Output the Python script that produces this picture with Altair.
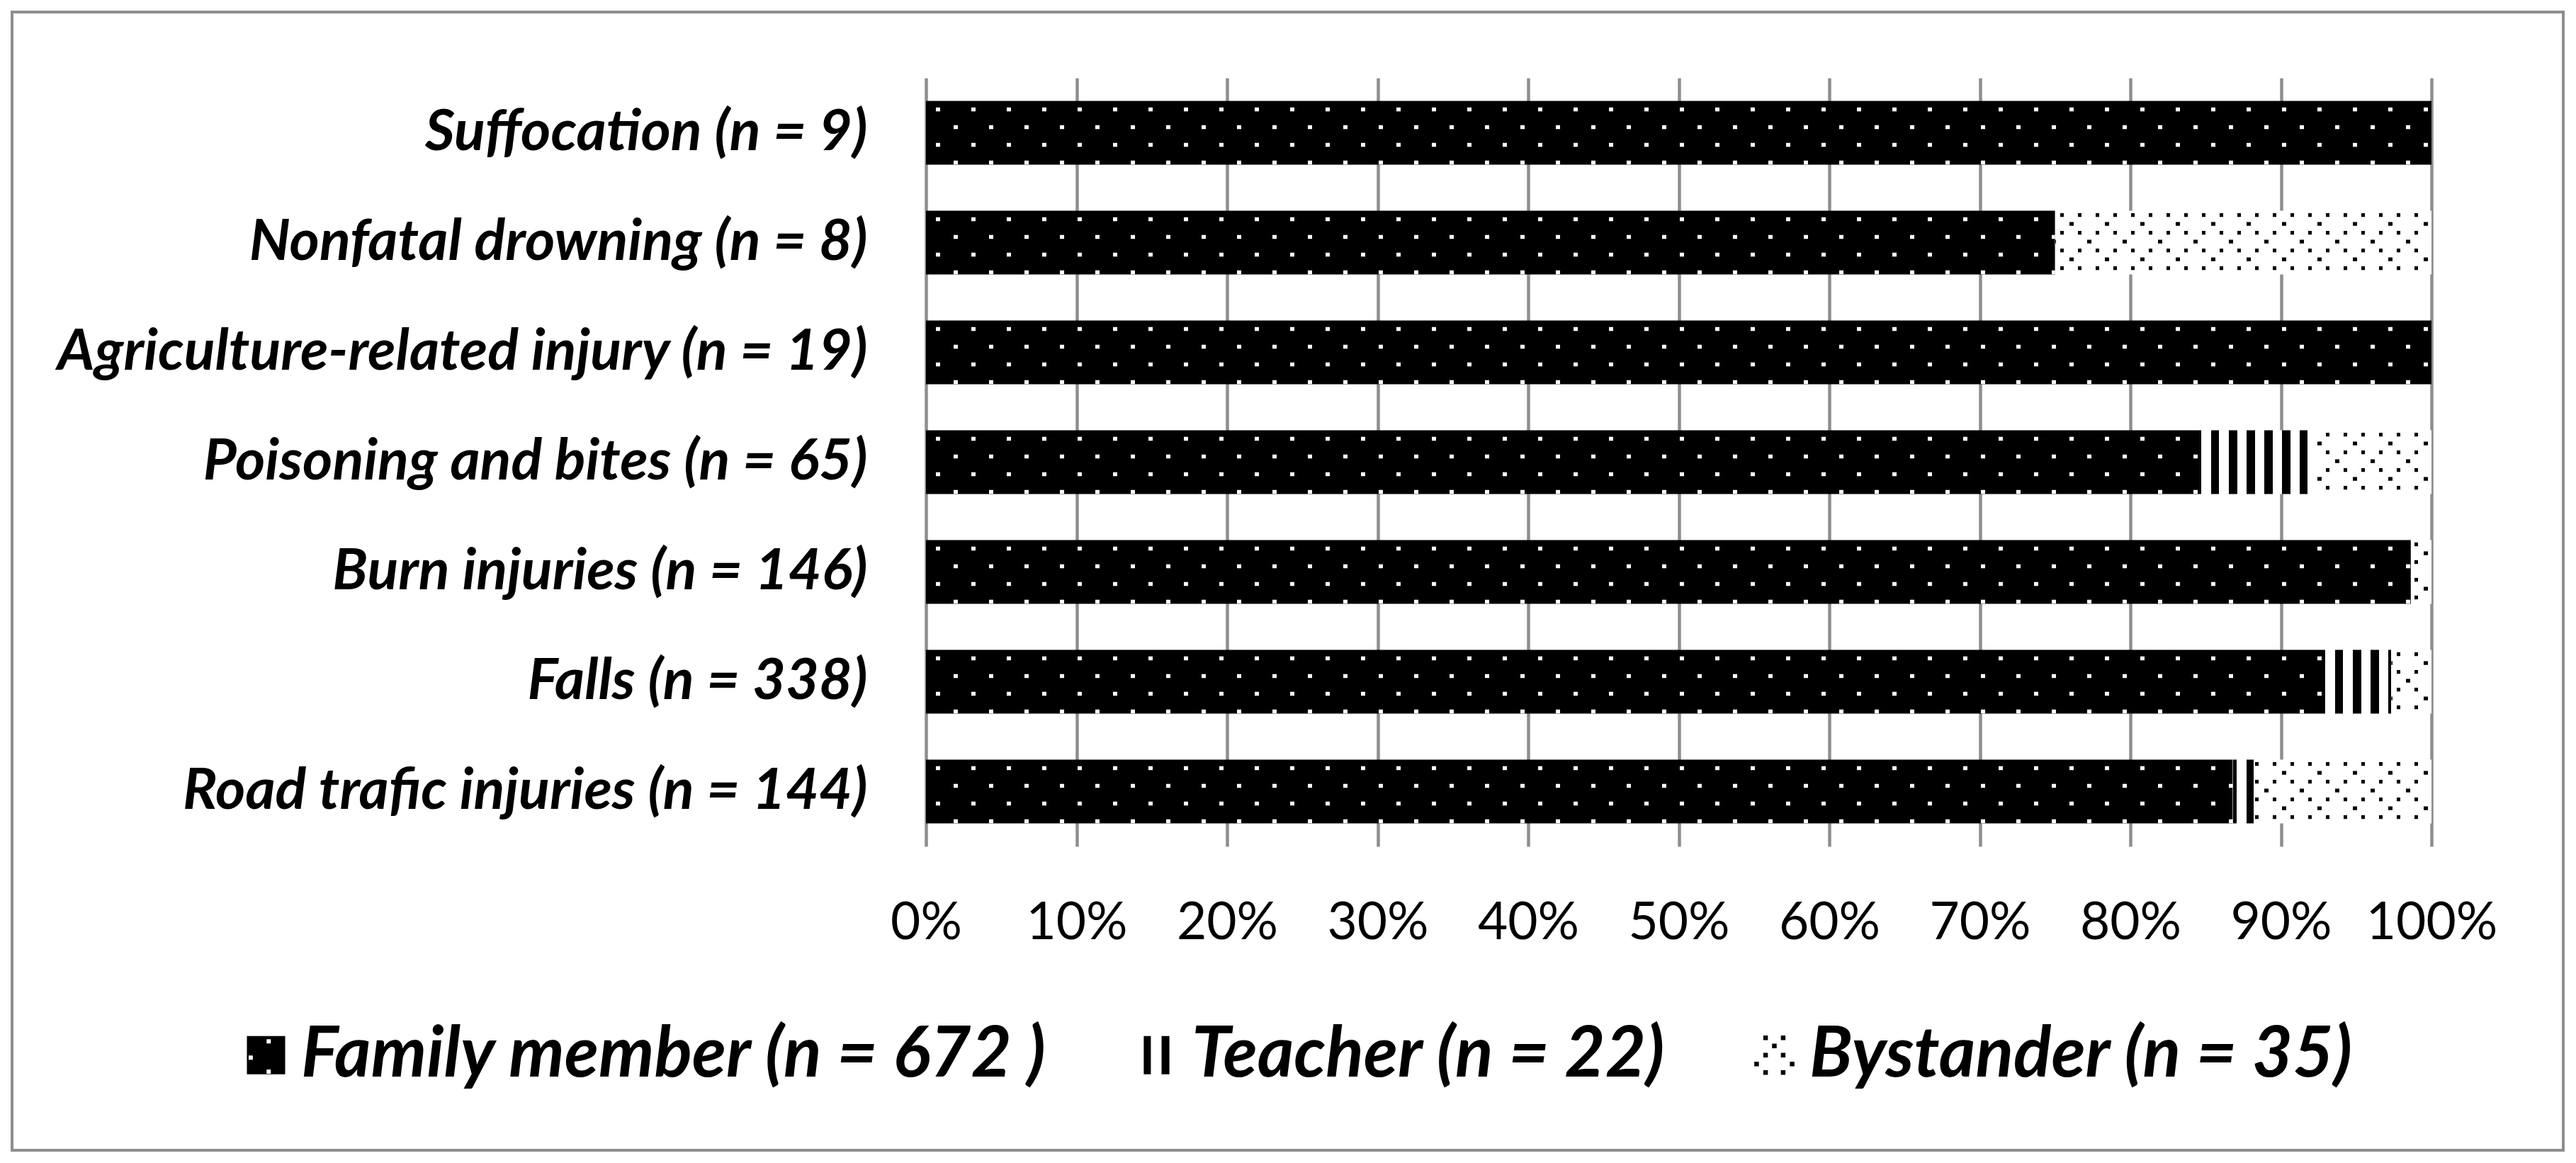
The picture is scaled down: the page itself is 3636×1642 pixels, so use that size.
import math
import json
import altair as alt
import pandas as pd

# ---------------- data ----------------
categories = [
    "Suffocation (n = 9)",
    "Nonfatal drowning (n = 8)",
    "Agriculture-related injury (n = 19)",
    "Poisoning and bites (n = 65)",
    "Burn injuries (n = 146)",
    "Falls (n = 338)",
    "Road trafic injuries (n = 144)",
]
series = ["Family member (n = 672 )", "Teacher (n = 22)", "Bystander (n = 35)"]
family = [9, 6, 19, 55, 144, 314, 125]
teacher = [0, 0, 0, 5, 0, 15, 2]
bystander = [0, 2, 0, 5, 2, 9, 17]
x_ticks = [0, 0.1, 0.2, 0.3, 0.4, 0.5, 0.6, 0.7, 0.8, 0.9, 1.0]

# ---------------- layout / style ----------------
W, H = 2125, 1085
PAD_INNER, PAD_OUTER = 0.42, 0.21
GRID = "#8e8e8e"
FONT = "Lato"
TRANSP = "rgba(0,0,0,0)"
step = H / (len(categories) - PAD_INNER + 2 * PAD_OUTER)
bar_h = step * (1 - PAD_INNER)

values_by_series = [family, teacher, bystander]
rows = []
for i, c in enumerate(categories):
    for j, s in enumerate(series):
        rows.append({"category": c, "series": s, "count": values_by_series[j][i], "order": j})
df = pd.DataFrame(rows)


def stripes(length, start, period, on_start, on_width, on_color, off_color):
    """Hard-edged repeating vertical stripes as a Vega linear gradient (x direction)."""
    stops = [{"offset": 0, "color": off_color}]
    k = math.floor((start - on_start - on_width) / period)
    end = start + length
    while True:
        a = on_start + k * period
        b = a + on_width
        k += 1
        if b <= start:
            continue
        if a >= end:
            break
        fa = round(max(0.0, (a - start) / length), 5)
        fb = round(min(1.0, (b - start) / length), 5)
        stops += [
            {"offset": fa, "color": off_color},
            {"offset": fa, "color": on_color},
            {"offset": fb, "color": on_color},
            {"offset": fb, "color": off_color},
        ]
    stops.append({"offset": 1, "color": off_color})
    return {"gradient": "linear", "stops": stops, "x1": 0, "y1": 0, "x2": 1, "y2": 0}


# pixel extents of each segment (used only for the phase of the fill patterns)
extent = {}
for i, c in enumerate(categories):
    tot = sum(v[i] for v in values_by_series)
    cum = 0
    for j, s in enumerate(series):
        v = values_by_series[j][i]
        extent[(c, s)] = (cum / tot * W, v / tot * W)
        cum += v


def per_segment(s, period, center, width, color):
    conds = []
    for c in categories:
        x0, w = extent[(c, s)]
        if w > 0:
            conds.append({"test": "datum.category === " + json.dumps(c),
                          "value": stripes(w, x0, period, center - width / 2, width, color, TRANSP)})
    return {"condition": conds, "value": TRANSP}


base = alt.Chart(df).transform_stack(
    stack="count", groupby=["category"], as_=["x0", "x1"], offset="normalize",
    sort=[alt.SortField("order")],
).transform_filter("datum.count > 0")

x_enc = alt.X(
    "x0:Q",
    scale=alt.Scale(domain=[0, 1], nice=False, zero=True),
    axis=alt.Axis(
        title=None, values=x_ticks, format=".0%", grid=True, gridColor=GRID, gridWidth=4.5,
        ticks=False, domain=False, labelFont=FONT, labelFontSize=73, labelColor="black",
        labelPadding=72, labelFlush=False, labelLimit=600, labelOverlap=False,
    ),
)
y_enc = alt.Y(
    "category:N", sort=categories,
    scale=alt.Scale(paddingInner=PAD_INNER, paddingOuter=PAD_OUTER),
    axis=alt.Axis(
        title=None, ticks=False, domain=False, grid=False, labelFont=FONT, labelFontSize=81,
        labelFontStyle="italic", labelFontWeight="bold", labelColor="black", labelPadding=83,
        labelLimit=3000,
    ),
)


def seg(series_name):
    return base.transform_filter(alt.datum.series == series_name)


# solid base of every segment
base_fill = base.mark_bar().encode(
    x=x_enc, x2="x1:Q", y=y_enc,
    fill={"condition": {"test": "datum.series === " + json.dumps(series[0]), "value": "#000000"},
          "value": "#ffffff"},
)

layers = [base_fill]

# teacher: vertical black stripes over the full bar height
layers.append(seg(series[1]).mark_bar().encode(
    x=x_enc, x2="x1:Q", y=y_enc,
    fill=per_segment(series[1], period=25, center=19.95, width=11.1, color="#000000"),
))

# family: rows of white dots (row offset from bar top, horizontal phase, period)
family_rows = [(12, 17, 50), (37, 42, 50), (62, 17, 50), (87, 42, 50)]
for dy, ph, per in family_rows:
    layers.append(seg(series[0]).mark_bar(height=5.5, yOffset=dy - bar_h / 2).encode(
        x=x_enc, x2="x1:Q", y=y_enc,
        fill=per_segment(series[0], period=per, center=ph, width=5.5, color="#ffffff"),
    ))

# bystander: rows of black dots, dense and sparse rows alternating
bystander_rows = [(6, 3.7, 25), (18.6, 17, 50), (31, 3.7, 25), (43.6, 42, 50),
                  (56, 3.7, 25), (68.6, 17, 50), (81, 3.7, 25)]
for dy, ph, per in bystander_rows:
    layers.append(seg(series[2]).mark_bar(height=5.3, yOffset=dy - bar_h / 2).encode(
        x=x_enc, x2="x1:Q", y=y_enc,
        fill=per_segment(series[2], period=per, center=ph, width=5.3, color="#000000"),
    ))


# legend symbols (custom paths in a [-1, 1] box)
def sq(cx, cy, r, ccw=False):
    pts = [(cx - r, cy - r), (cx + r, cy - r), (cx + r, cy + r), (cx - r, cy + r)]
    if ccw:
        pts = pts[::-1]
    return "M" + " L".join(f"{x:.3f},{y:.3f}" for x, y in pts) + " Z"


def box(x0, y0, x1, y1):
    return f"M{x0},{y0} L{x1},{y0} L{x1},{y1} L{x0},{y1} Z"


fam_path = box(-1, -1, 1, 1) + " " + " ".join(
    sq(cx, cy, 0.11, ccw=True) for cx, cy in [(0.14, -0.72), (-0.8, 0.13), (0.14, 0.86)])
tea_path = box(-0.67, -1, -0.3, 1) + " " + box(0.26, -1, 0.67, 1)
bys_path = " ".join(sq(cx, cy, 0.12) for cx, cy in [
    (-0.46, -0.91), (0.46, -0.91), (0, -0.48), (-0.46, 0), (0.46, 0),
    (-0.93, 0.46), (0.93, 0.46), (-0.46, 0.91), (0.46, 0.91)])

legend_layer = alt.Chart(df).transform_filter("false").mark_point(
    filled=True, color="black", opacity=1
).encode(
    shape=alt.Shape(
        "series:N",
        scale=alt.Scale(domain=series, range=[fam_path, tea_path, bys_path]),
        legend=alt.Legend(
            title=None, orient="none", legendX=-981, legendY=1330, direction="horizontal",
            columns=3, columnPadding=103, padding=0, symbolSize=2916, symbolStrokeWidth=0,
            symbolFillColor="black", labelFont=FONT, labelFontSize=99, labelFontStyle="italic",
            labelFontWeight="bold", labelColor="black", labelOffset=0, labelLimit=3000,
        ),
    )
)
layers.append(legend_layer)

border = alt.Chart(pd.DataFrame({"k": [0]})).mark_rect(
    fillOpacity=0, stroke=GRID, strokeWidth=4
).encode(
    x=alt.value(-1290), x2=alt.value(2311), y=alt.value(-93), y2=alt.value(1514)
)

chart = alt.layer(border, *layers).properties(
    width=W, height=H,
    padding={"left": 1299, "top": 102, "right": 192, "bottom": 436},
    autosize=alt.AutoSizeParams(type="none"),
    background="white",
).configure_view(strokeWidth=0)

chart.save("out.html", embed_options={"renderer": "svg", "actions": False})
